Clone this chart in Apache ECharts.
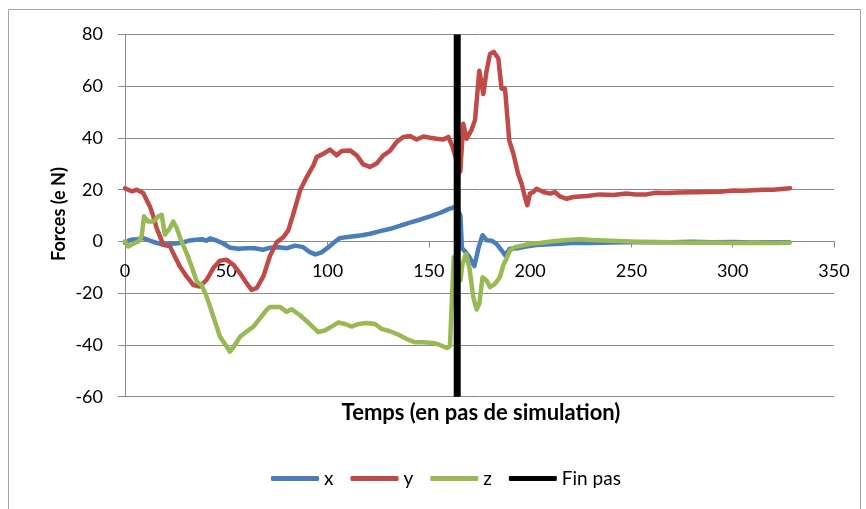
<!DOCTYPE html>
<html>
<head>
<meta charset="utf-8">
<script src="https://cdn.jsdelivr.net/npm/echarts@6/dist/echarts.min.js"></script>
<style>
html,body{margin:0;padding:0;background:#fff;}
#chart{width:866px;height:509px;}
</style>
</head>
<body>
<div id="chart"></div>
<script>
// ---- data (time step, force) ----
const seriesNames = ['x', 'y', 'z', 'Fin pas'];
const xTicks = [0, 50, 100, 150, 200, 250, 300, 350];
const yTicks = [-60, -40, -20, 0, 20, 40, 60, 80];

const forceX = [
  [0,-0.5],[2,0.4],[4,0.8],[6,0.9],[9,1.3],[12,0.4],[15,-0.4],[19,-1.3],[22,-0.9],[25,-0.8],
  [29,-0.3],[32,0.4],[35,0.7],[38,0.9],[40,0.3],[42,1.2],[45,0.4],[48,-0.6],[52,-2.4],[56,-2.8],
  [60,-2.6],[64,-2.6],[68,-3.2],[72,-2.4],[76,-2.2],[80,-2.6],[84,-1.6],[88,-2.2],[91,-4],[94,-5],
  [97,-4.2],[100,-2.5],[103,-0.5],[106,1.3],[109,1.6],[113,2],[117,2.4],[121,3],[126,4],[131,4.9],
  [136,6.1],[141,7.4],[146,8.5],[151,9.8],[156,11.2],[160,12.6],[163.5,13.5],[165.6,10],[166.3,-2.5],
  [168,-4],[170,-6],[172.5,-9.5],[174.5,-2.5],[176.5,2.4],[178.5,0.5],[181,0.3],[183.5,-1],[186,-3.5],
  [187.6,-5.3],[190,-2.8],[193,-2.7],[198,-2],[203,-1.4],[208,-1.2],[215,-0.9],[222,-0.5],[230,-0.6],
  [240,-0.4],[250,-0.3],[260,-0.2],[270,-0.3],[280,-0.1],[290,-0.3],[300,-0.2],[310,-0.4],[320,-0.3],[328,-0.3]
];

const forceY = [
  [0,20.5],[3.3,19.4],[5.8,20],[9,18.7],[10.7,16],[12.3,13.5],[14,9.7],[15.6,5.2],[17.3,1.9],[18.9,-1.3],
  [22.2,-1.9],[23.8,-4.5],[27.1,-9.7],[30.4,-13.5],[33.7,-16.8],[37,-17.4],[40.3,-14.8],[43.6,-10.3],
  [46.9,-7.4],[50.2,-7.1],[53.5,-9],[56.8,-12.3],[60,-16.1],[62.5,-18.7],[65,-18],[68.3,-13.5],[71.6,-5.5],
  [74.9,-0.3],[78.2,1.7],[80.6,4.3],[83.1,10.7],[86.4,19.7],[89.7,24.9],[93,29.4],[94.6,32.6],[97.9,33.9],
  [101.2,35.5],[104.5,33.3],[107,35],[111.1,35.2],[114.4,33.3],[117.6,29.8],[120.9,28.8],[124.2,30.1],
  [127.5,33.3],[130.8,35],[134.1,38.5],[137.4,40.4],[140.7,40.8],[144,39.4],[147.3,40.6],[150.6,40.1],
  [153.9,39.7],[157.1,39.4],[159.6,40.4],[161.5,37],[165.5,27],[167,45.5],[168.6,39.7],[171,43],[172.8,47],
  [174.9,66],[176.9,57],[178.5,66],[180.2,72.5],[182,73.3],[184.3,70.7],[185.9,59],[187.6,59],[189.7,39],
  [191.7,34],[194.1,26],[195.8,22.3],[197.4,17.2],[198.6,14],[199.9,18.5],[201.5,19.1],[203.2,20.4],
  [206.5,19.1],[209.8,18.5],[212.2,19.1],[214.7,17.4],[218,16.5],[221.3,17.2],[224.6,17.4],[228,17.6],
  [234.5,18.2],[241,18],[247.6,18.5],[252,18.2],[257.5,18.2],[262,18.8],[267.4,18.7],[273,18.9],[280.5,19],
  [287,19.1],[293.7,19.2],[300.3,19.7],[305,19.6],[310.2,19.8],[315,20],[320,20],[324,20.3],[328.3,20.6]
];

const forceZ = [
  [0,0],[1.6,-1.9],[4.1,-0.9],[6.6,0],[8.2,1.9],[9.4,9.7],[11.5,7.7],[14,7.7],[16.5,9.7],[18.1,10.3],
  [19.7,2.6],[22.2,5.2],[23.8,7.7],[25.5,5.2],[27.9,0],[30.4,-4.5],[32.9,-9.7],[35.4,-15.5],[37.8,-16.8],
  [40.3,-21.3],[43.6,-29],[46.9,-36.8],[50.2,-40.6],[51.8,-42.6],[54.3,-40],[56.8,-36.8],[60,-34.8],
  [63.4,-32.9],[66.6,-29.7],[69.9,-26.5],[71.6,-25.3],[76.5,-25.3],[79.8,-27.2],[82.3,-26.2],[86.4,-28.5],
  [91.4,-32],[95.4,-35],[98.7,-34.4],[102,-32.9],[105.3,-31.3],[108.6,-31.9],[111.9,-32.9],[115.2,-31.9],
  [119.3,-31.5],[123.4,-31.9],[126.7,-33.8],[130.8,-34.7],[134.9,-36],[139,-37.7],[143.2,-39],[147.3,-39],
  [152.2,-39.2],[155.5,-40],[158.8,-41.2],[160.4,-40.5],[161.5,-20],[162.3,-6],[165.6,-15],[166.5,-9],
  [168.3,-4.8],[170,-10],[171.9,-21.5],[173.6,-26.3],[174.9,-24.1],[176.5,-13.8],[178.5,-15.1],[180.2,-17.7],
  [182.6,-16.4],[185.1,-13.8],[186.7,-9.3],[188.3,-6.7],[190,-3.5],[192.5,-2.2],[196.6,-1.5],[199.9,-0.9],
  [204.8,-0.6],[211.4,0.1],[218,0.6],[224.6,0.9],[230,0.6],[240,0.3],[250,0],[260,-0.3],[270,-0.3],
  [280,-0.5],[290,-0.4],[300,-0.6],[310,-0.5],[320,-0.6],[328,-0.5]
];

const finPas = [[164,-60],[164,80]];

// ---- chart ----
const FONT = 'Lato';
const GRIDC = '#8a8a8a';
const PLOT_TOP = 34.5, PLOT_BOTTOM = 396.7, PLOT_LEFT = 125, PLOT_RIGHT = 834;
const H = 509, W = 866;
const yMin = yTicks[0], yMax = yTicks[yTicks.length - 1];
// upper helper grid whose bottom edge is the value-0 line, to carry the x axis there
const zeroY = PLOT_TOP + (yMax - 0) / (yMax - yMin) * (PLOT_BOTTOM - PLOT_TOP);

const chart = echarts.init(document.getElementById('chart'), null, {renderer: 'canvas'});

function lineSeries(name, data, color, width) {
  return {
    name: name, type: 'line', data: data, showSymbol: false, symbol: 'none',
    xAxisIndex: 0, yAxisIndex: 0,
    animation: false, silent: true,
    itemStyle: {color: color},
    lineStyle: {color: color, width: width, cap: 'round', join: 'round'}
  };
}

chart.setOption({
  animation: false,
  backgroundColor: '#ffffff',
  grid: [
    {left: PLOT_LEFT, right: W - PLOT_RIGHT, top: PLOT_TOP, bottom: H - PLOT_BOTTOM, containLabel: false},
    {left: PLOT_LEFT, right: W - PLOT_RIGHT, top: PLOT_TOP, bottom: H - zeroY, containLabel: false}
  ],
  xAxis: [
    {
      gridIndex: 0, type: 'value', min: xTicks[0], max: xTicks[xTicks.length - 1], interval: 50,
      axisLine: {show: false}, axisTick: {show: false}, axisLabel: {show: false}, splitLine: {show: false}
    },
    {
      gridIndex: 1, type: 'value', position: 'bottom',
      min: xTicks[0], max: xTicks[xTicks.length - 1], interval: 50,
      axisLine: {show: true, onZero: false, lineStyle: {color: GRIDC, width: 1}},
      axisTick: {show: true, length: 6, inside: false, lineStyle: {color: GRIDC}},
      axisLabel: {color: '#000', fontFamily: FONT, fontSize: 18, margin: 21},
      splitLine: {show: false}
    }
  ],
  yAxis: [
    {
      gridIndex: 0, type: 'value', min: yMin, max: yMax, interval: 20,
      axisLine: {show: true, onZero: false, lineStyle: {color: GRIDC, width: 1}},
      axisTick: {show: true, length: 7, lineStyle: {color: GRIDC}},
      axisLabel: {color: '#000', fontFamily: FONT, fontSize: 18, margin: 22},
      splitLine: {show: true, lineStyle: {color: GRIDC, width: 1}}
    },
    {
      gridIndex: 1, type: 'value', min: 0, max: 1, show: false
    }
  ],
  legend: {
    data: seriesNames, left: 271, top: 469, padding: 0, itemWidth: 48, itemHeight: 5, itemGap: 17,
    icon: 'roundRect',
    textStyle: {color: '#000', fontFamily: FONT, fontSize: 19}
  },
  graphic: [
    {type: 'rect', silent: true, z: -10,
     shape: {x: 8.5, y: 9.5, width: 852, height: 520},
     style: {fill: 'none', stroke: '#a6a6a6', lineWidth: 1}},
    {type: 'text', silent: true, x: 481, y: 413,
     style: {text: 'Temps (en pas de simulation)', fontFamily: FONT, fontSize: 22, fontWeight: 'bold',
             fill: '#000', align: 'center', verticalAlign: 'middle',
             textAlign: 'center', textVerticalAlign: 'middle'}},
    {type: 'text', silent: true, x: 59, y: 214, rotation: Math.PI / 2,
     style: {text: 'Forces (e N)', fontFamily: FONT, fontSize: 18, fontWeight: 'bold',
             fill: '#000', align: 'center', verticalAlign: 'middle',
             textAlign: 'center', textVerticalAlign: 'middle'}}
  ],
  series: [
    lineSeries(seriesNames[0], forceX, '#4a7ebb', 4.5),
    lineSeries(seriesNames[1], forceY, '#be4b48', 4.5),
    lineSeries(seriesNames[2], forceZ, '#98b954', 4.5),
    Object.assign(lineSeries(seriesNames[3], finPas, '#000000', 7), {lineStyle: {color: '#000', width: 7, cap: 'butt'}})
  ]
});
</script>
</body>
</html>
